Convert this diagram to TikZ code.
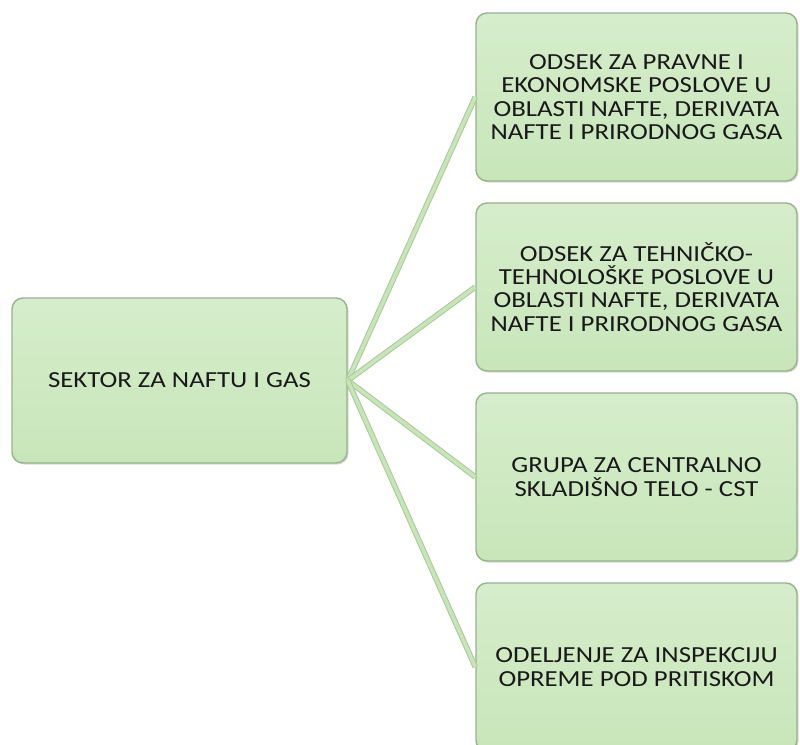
\documentclass[tikz,border=0pt]{standalone}
\usepackage{fontspec}
\setmainfont{Carlito}[FakeStretch=1.165]
\usepackage{tikz}
\usetikzlibrary{positioning,shadows}
\usepackage{xcolor}
\definecolor{boxfill}{HTML}{C8E6BA}
\definecolor{boxtop}{HTML}{D6EDCB}
\definecolor{boxedge}{HTML}{98B28C}
\definecolor{linkfill}{HTML}{C8E4B9}
\definecolor{linkedge}{HTML}{A8C99A}

\begin{document}
\begin{tikzpicture} [
  x = 1pt, y = -1pt,
  unit/.style = { draw = boxedge, line width = 1.4pt, rounded corners = 11pt,
    top color = boxtop, bottom color = boxfill, align = center,
    font = \fontsize{23}{23.3}\selectfont, text = black!90,
    drop shadow = {opacity=0.3,shadow xshift=1.5pt,shadow yshift=-1.5pt} },
  sector/.style = { unit, minimum width = 335pt, minimum height = 165pt },
  dept/.style = { unit, minimum width = 321pt, minimum height = 168pt },
  link/.style = { draw = linkedge, line width = 1pt, double = linkfill, double distance = 3.6pt }
  ]
  \useasboundingbox (0,0) rectangle (800,744);

  \node[sector] (sektor) at (179.5,380.5) {SEKTOR ZA NAFTU I GAS};

  \node[dept] (pravni) at (636.5,97) {ODSEK ZA PRAVNE I\\EKONOMSKE POSLOVE U\\OBLASTI NAFTE, DERIVATA\\NAFTE I PRIRODNOG GASA};
  \node[dept] (tehnicki) at (636.5,287) {ODSEK ZA TEHNIČKO-\\TEHNOLOŠKE POSLOVE U\\OBLASTI NAFTE, DERIVATA\\NAFTE I PRIRODNOG GASA};
  \node[dept] (cst) at (636.5,477) {GRUPA ZA CENTRALNO\\SKLADIŠNO TELO - CST};
  \node[dept] (inspekcija) at (636.5,667) {ODELJENJE ZA INSPEKCIJU\\OPREME POD PRITISKOM};

  \foreach \d in {pravni, tehnicki, cst, inspekcija}
    \draw[link] (sektor.east) -- (\d.west);
\end{tikzpicture}
\end{document}
